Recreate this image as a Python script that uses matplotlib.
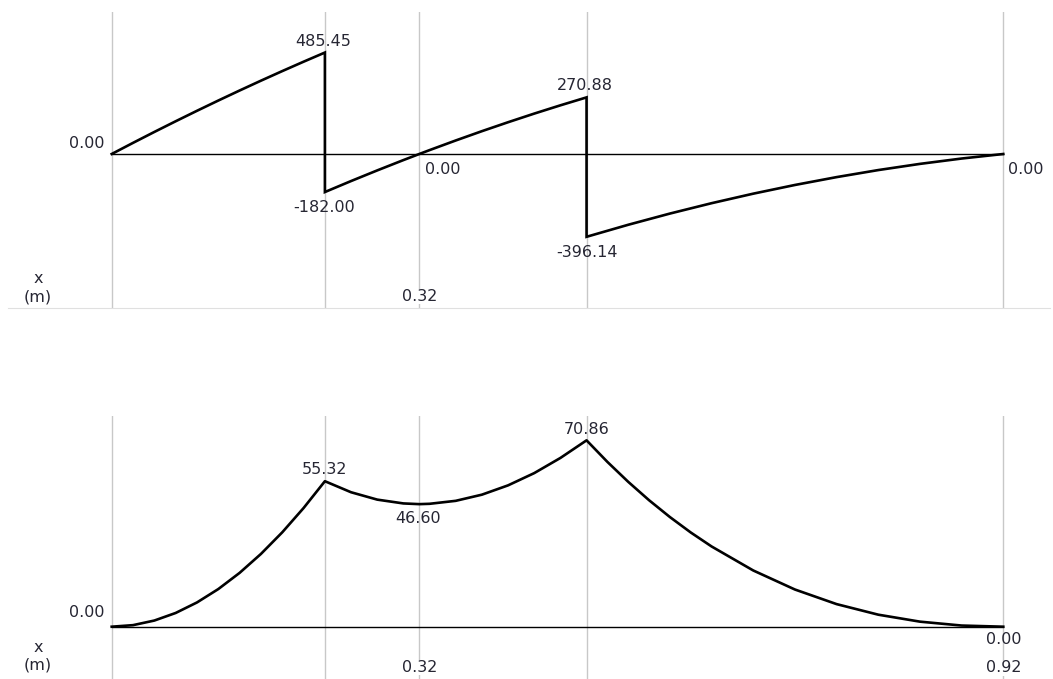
import matplotlib
matplotlib.use("Agg")
import matplotlib.pyplot as plt

# beam stations (m): start, support 1, zero shear, support 2, end
stations = [0.0, 0.22, 0.3174, 0.49, 0.92]

# shear force, sampled along the beam (jumps repeat the x value)
shear_x = [0.0, 0.022, 0.044, 0.066, 0.088, 0.110, 0.132, 0.154, 0.176, 0.198, 0.22,
           0.22, 0.247, 0.274, 0.301, 0.3174, 0.328, 0.355, 0.382, 0.409, 0.436, 0.463, 0.49,
           0.49, 0.533, 0.576, 0.619, 0.662, 0.705, 0.748, 0.791, 0.834, 0.877, 0.92]
shear_v = [0.0, 53.26, 105.5, 156.6, 206.7, 255.8, 303.8, 350.8, 396.7, 441.6, 485.45,
           -182.00, -129.4, -78.5, -29.1, 0.0, 18.6, 64.7, 109.2, 152.0, 193.3, 232.9, 270.88,
           -396.14, -338.6, -285.0, -235.4, -189.8, -148.2, -110.6, -76.9, -47.3, -21.7, 0.0]

# bending moment, sampled along the beam
moment_x = [0.0, 0.022, 0.044, 0.066, 0.088, 0.110, 0.132, 0.154, 0.176, 0.198, 0.22,
            0.247, 0.274, 0.301, 0.3174, 0.328, 0.355, 0.382, 0.409, 0.436, 0.463, 0.49,
            0.5115, 0.533, 0.5545, 0.576, 0.5975, 0.619, 0.662, 0.705, 0.748, 0.791, 0.834,
            0.877, 0.92]
moment_m = [0.0, 0.59, 2.34, 5.22, 9.22, 14.31, 20.47, 27.67, 35.89, 45.12, 55.32,
            51.12, 48.32, 46.87, 46.60, 46.73, 47.86, 50.20, 53.74, 58.40, 64.16, 70.86,
            62.66, 55.08, 48.09, 41.69, 35.83, 30.51, 21.38, 14.14, 8.59, 4.57, 1.92,
            0.44, 0.0]

# (x, value, dx px, dy px, ha) for the value labels
shear_labels = [(0.0, 0.0, -7, 11, "right"), (0.22, 485.45, -2, 11, "center"),
                (0.22, -182.00, -1, -15, "center"), (0.3174, 0.0, 6, -16, "left"),
                (0.49, 270.88, -2, 12, "center"), (0.49, -396.14, 0, -16, "center"),
                (0.92, 0.0, 5, -15, "left")]
moment_labels = [(0.0, 0.0, -7, 14, "right"), (0.22, 55.32, 0, 12, "center"),
                 (0.3174, 46.60, -1, -14, "center"), (0.49, 70.86, 0, 11, "center"),
                 (0.92, 0.0, 0, -13, "center")]

W, H = 1053, 679
TXT = "#262633"
FS = 11.5
X0, PXM = 111.7, 969.1  # pixel of x=0 and pixels per metre


def make_axes(fig, top, bottom):
    ax = fig.add_axes([8 / W, 1 - bottom / H, 1042 / W, (bottom - top) / H])
    ax.set_xlim((8 - X0) / PXM, (1050 - X0) / PXM)
    for s in ax.spines.values():
        s.set_visible(False)
    ax.set_xticks([])
    ax.set_yticks([])
    for xs in stations:
        ax.axvline(xs, color="#c8c8c8", lw=1.0, zorder=0)
    return ax


def put_labels(ax, labels):
    for x, v, dx, dy, ha in labels:
        ax.annotate(f"{v:.2f}", xy=(x, v), xytext=(dx, dy), textcoords="offset pixels",
                    ha=ha, va="center", fontsize=FS, color=TXT)


def x_caption(ax, y_x, y_m, top, bottom):
    fx = lambda py: (bottom - py) / (bottom - top)
    ax.text((38 - 8) / 1042, fx(y_x), "x", transform=ax.transAxes,
            ha="center", va="center", fontsize=FS, color=TXT)
    ax.text((38 - 8) / 1042, fx(y_m), "(m)", transform=ax.transAxes,
            ha="center", va="center", fontsize=FS, color=TXT)


fig = plt.figure(figsize=(W / 100, H / 100), dpi=100, facecolor="white")

# --- shear force ---
top1, bot1 = 12, 308
ax1 = make_axes(fig, top1, bot1)
k1 = 0.209
ax1.set_ylim(-(bot1 - 154) / k1, (154 - top1) / k1)
ax1.spines["bottom"].set_visible(True)
ax1.spines["bottom"].set_color("#e0e0e0")
ax1.plot([0, 0.92], [0, 0], color="black", lw=1.0, zorder=2)
ax1.plot(shear_x, shear_v, color="black", lw=1.9, zorder=3, solid_joinstyle="miter")
put_labels(ax1, shear_labels)
x_caption(ax1, 279, 297, top1, bot1)
ax1.text(stations[2], (bot1 - 297) / (bot1 - top1), f"{stations[2]:.2f}",
         transform=ax1.get_xaxis_transform(), ha="center", va="center",
         fontsize=FS, color=TXT, bbox=dict(fc="white", ec="none", pad=0))

# --- bending moment ---
top2, bot2 = 416, 679
ax2 = make_axes(fig, top2, bot2)
k2 = 2.63
ax2.set_ylim(-(bot2 - 626.7) / k2, (626.7 - top2) / k2)
ax2.plot([0, 0.92], [0, 0], color="black", lw=1.0, zorder=2)
ax2.plot(moment_x, moment_m, color="black", lw=1.9, zorder=3)
put_labels(ax2, moment_labels)
x_caption(ax2, 648, 665, top2, bot2)
for xs, py in [(stations[2], 667), (stations[4], 668)]:
    ax2.text(xs, (bot2 - py) / (bot2 - top2), f"{xs:.2f}",
             transform=ax2.get_xaxis_transform(), ha="center", va="center",
             fontsize=FS, color=TXT, bbox=dict(fc="white", ec="none", pad=0))

fig.savefig("out.png", dpi=100, facecolor="white")
